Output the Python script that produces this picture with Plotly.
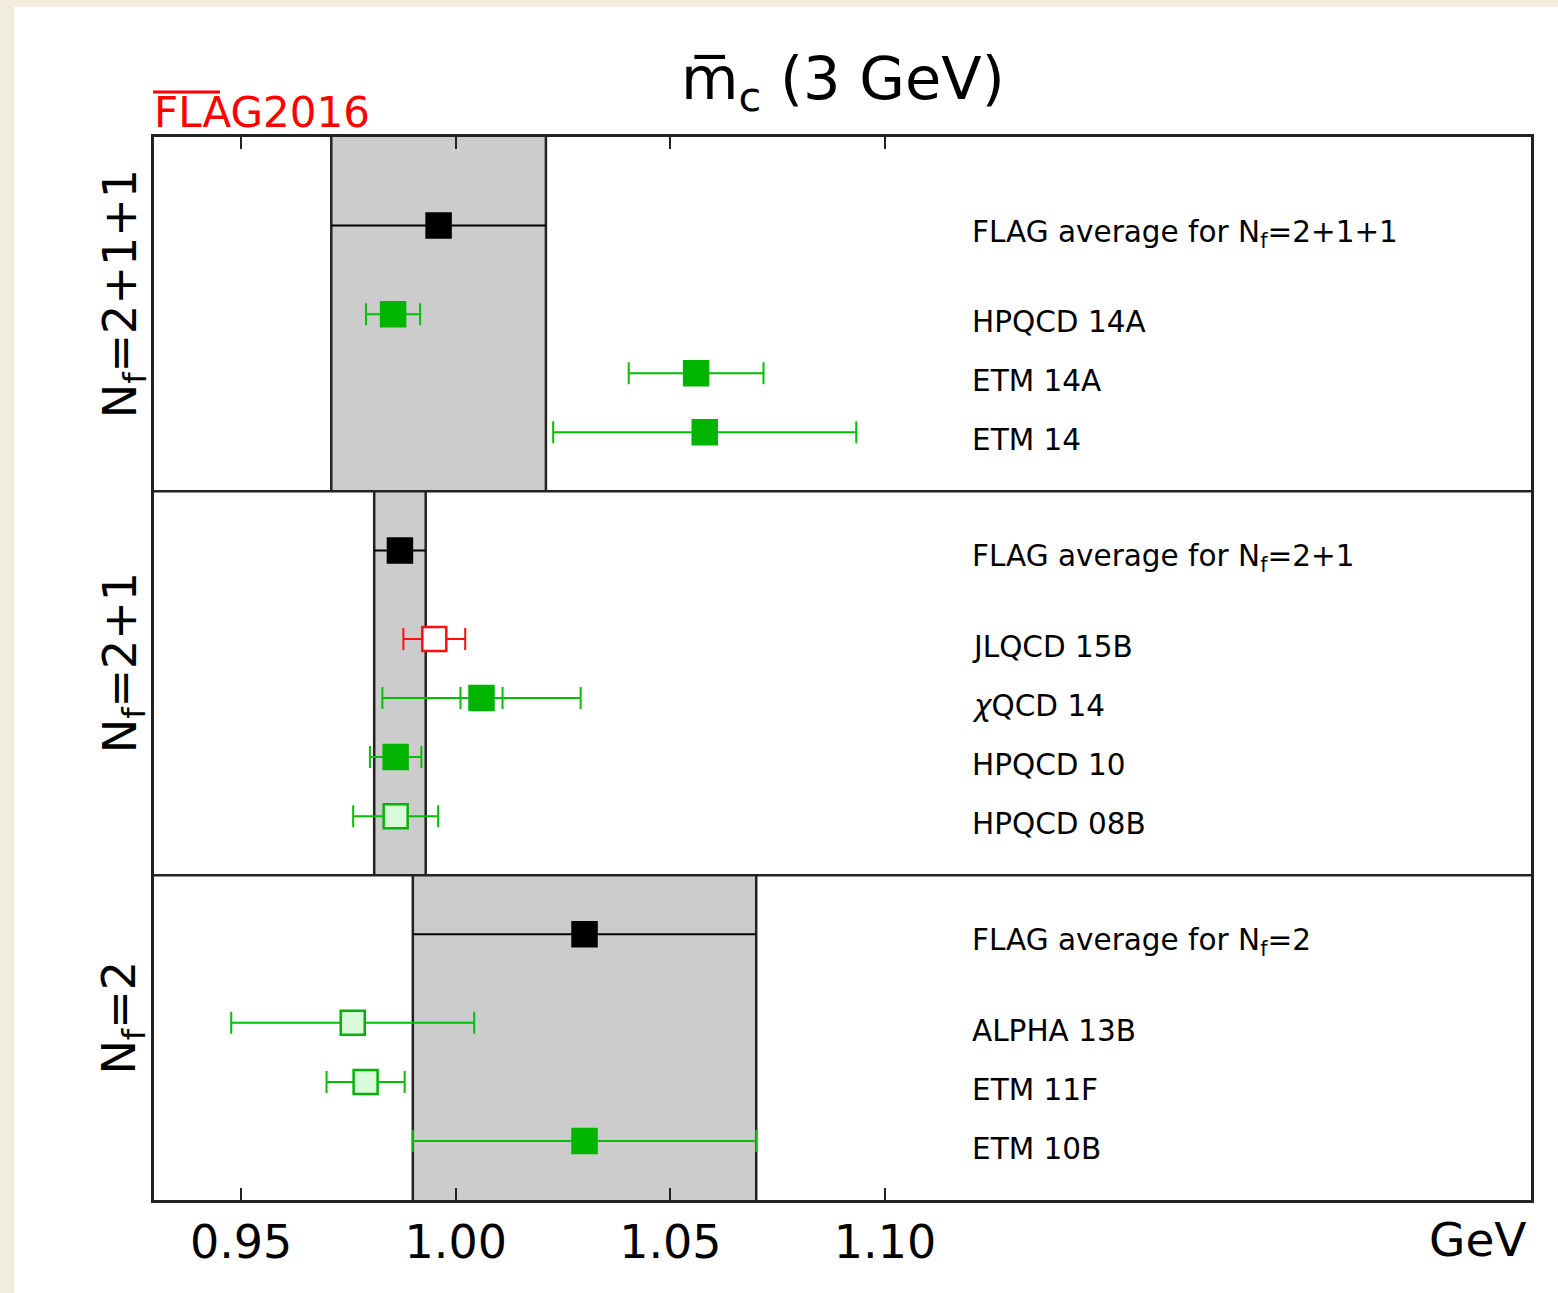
import plotly.graph_objects as go

# ---------------- data ----------------
group_labels = ["N<sub>f</sub>=2", "N<sub>f</sub>=2+1", "N<sub>f</sub>=2+1+1"]
flag_names = ["FLAG average for N<sub>f</sub>=2",
              "FLAG average for N<sub>f</sub>=2+1",
              "FLAG average for N<sub>f</sub>=2+1+1"]
flag_avg = [1.030, 0.987, 0.996]
flag_err = [0.040, 0.006, 0.025]

names_nf2 = ["ETM 10B", "ETM 11F", "ALPHA 13B"]
vals_nf2 = [1.030, 0.979, 0.976]
errs_nf2 = [0.040, 0.0091, 0.0283]
tot_nf2 = [None, None, None]
kind_nf2 = ["filled", "light", "light"]

names_nf21 = ["HPQCD 08B", "HPQCD 10", "<i>χ</i>QCD 14", "JLQCD 15B"]
vals_nf21 = [0.986, 0.986, 1.006, 0.995]
errs_nf21 = [0.0099, 0.0060, 0.0049, 0.0072]
tot_nf21 = [None, None, 0.0231, None]
kind_nf21 = ["light", "filled", "filled", "open"]

names_nf211 = ["ETM 14", "ETM 14A", "HPQCD 14A"]
vals_nf211 = [1.058, 1.056, 0.9854]
errs_nf211 = [0.0353, 0.0157, 0.0063]
tot_nf211 = [None, None, None]
kind_nf211 = ["filled", "filled", "filled"]

x_ticks = [0.95, 1.00, 1.05, 1.10]
x_ticktext = ["0.95", "1.00", "1.05", "1.10"]

groups = [
    (names_nf2, vals_nf2, errs_nf2, tot_nf2, kind_nf2),
    (names_nf21, vals_nf21, errs_nf21, tot_nf21, kind_nf21),
    (names_nf211, vals_nf211, errs_nf211, tot_nf211, kind_nf211),
]

# ---------------- style ----------------
FONT = "DejaVu Sans"
GREEN = "#00b400"
GREEN_BAR = "#00c000"
LIGHT = "#d9fbd9"
RED = "#ff1010"
MSIZE = 24
LABEL_X = 1.1198
XR = [0.9297, 1.2505]
W, H = 1558, 1293
ML, MR, MT, MB = 154, 27, 137, 93
pw, ph = W - ML - MR, H - MT - MB

fig = go.Figure()
shapes = []
annotations = []

offset = 0.0
boundaries = []
panel_ranges = []
for gi, (nm, vl, er, tot, kd) in enumerate(groups):
    n = len(nm)
    ys = [offset + i + 1 for i in range(n)]
    y_flag = offset + n + 1.5
    top = offset + n + 2.5
    lo, hi = flag_avg[gi] - flag_err[gi], flag_avg[gi] + flag_err[gi]
    band_top = top if gi < len(groups) - 1 else y_flag + 1.5
    panel_ranges.append((offset, band_top))
    shapes.append(dict(type="rect", xref="x", yref="y", x0=lo, x1=hi,
                       y0=offset, y1=band_top, fillcolor="#cccccc",
                       line=dict(width=0), layer="below"))
    for xe in (lo, hi):
        shapes.append(dict(type="line", xref="x", yref="y", x0=xe, x1=xe,
                           y0=offset, y1=band_top,
                           line=dict(color="#222222", width=2.5), layer="below"))
    for i in range(n):
        k = kd[i]
        if k == "filled":
            fill, lc, bc = GREEN, GREEN, GREEN_BAR
        elif k == "light":
            fill, lc, bc = LIGHT, GREEN, GREEN_BAR
        else:
            fill, lc, bc = "white", RED, RED
        if tot[i] is not None:
            fig.add_trace(go.Scatter(
                x=[vl[i]], y=[ys[i]], mode="markers",
                marker=dict(size=MSIZE, color="rgba(0,0,0,0)", symbol="square"),
                error_x=dict(type="data", array=[tot[i]], color=bc,
                             thickness=2, width=11),
                showlegend=False, hoverinfo="skip"))
        fig.add_trace(go.Scatter(
            x=[vl[i]], y=[ys[i]], mode="markers",
            marker=dict(size=MSIZE, color=fill, symbol="square",
                        line=dict(color=lc, width=2.5)),
            error_x=dict(type="data", array=[er[i]], color=bc,
                         thickness=2, width=11),
            showlegend=False, name=nm[i]))
        annotations.append(dict(x=LABEL_X, y=ys[i], xref="x", yref="y",
                                text=nm[i], showarrow=False, xanchor="left",
                                yanchor="middle", yshift=-8,
                                font=dict(family=FONT, size=29.5, color="black")))
    fig.add_trace(go.Scatter(
        x=[flag_avg[gi]], y=[y_flag], mode="markers",
        marker=dict(size=MSIZE, color="black", symbol="square",
                    line=dict(color="black", width=2.5)),
        error_x=dict(type="data", array=[flag_err[gi]], color="black",
                     thickness=2, width=0),
        showlegend=False, name=flag_names[gi]))
    annotations.append(dict(x=LABEL_X, y=y_flag, xref="x", yref="y",
                            text=flag_names[gi], showarrow=False, xanchor="left",
                            yanchor="middle", yshift=-8,
                            font=dict(family=FONT, size=29.5, color="black")))
    offset = top
    if gi < len(groups) - 1:
        boundaries.append(top)

for b in boundaries:
    shapes.append(dict(type="line", xref="paper", yref="y", x0=0, x1=1,
                       y0=b, y1=b, line=dict(color="#222222", width=2.5)))

for gi, (y0, y1) in enumerate(panel_ranges):
    annotations.append(dict(x=-0.0225, y=(y0 + y1) / 2, xref="paper", yref="y",
                            text=group_labels[gi], textangle=-90, showarrow=False,
                            xanchor="center", yanchor="middle", yshift=20,
                            font=dict(family=FONT, size=46, color="black")))

annotations.append(dict(x=0.5, y=1, xref="paper", yref="paper",
                        text="m\u0305<sub>c</sub> (3 GeV)", showarrow=False,
                        xanchor="center", yanchor="bottom", yshift=14,
                        font=dict(family=FONT, size=59, color="black")))
annotations.append(dict(x=-0.0015, y=1, xref="paper", yref="paper",
                        text="FLAG2016", showarrow=False,
                        xanchor="left", yanchor="bottom", yshift=-2,
                        font=dict(family=FONT, size=42, color="#ff0000")))
# overline over "FLA" of the logo
shapes.append(dict(type="line", xref="paper", yref="paper",
                   x0=(153 - ML) / pw, x1=(220 - ML) / pw,
                   y0=(H - MB - 92) / ph, y1=(H - MB - 92) / ph,
                   line=dict(color="#ff0000", width=3)))
annotations.append(dict(x=1, y=0, xref="paper", yref="paper",
                        text="GeV", showarrow=False,
                        xanchor="right", yanchor="top", yshift=-10, xshift=-2,
                        font=dict(family=FONT, size=47, color="black")))

BEIGE = "#f1ecdc"
shapes.append(dict(type="rect", xref="paper", yref="paper",
                   x0=-ML / pw, x1=(14 - ML) / pw, y0=-MB / ph, y1=(H - MB) / ph,
                   fillcolor=BEIGE, line=dict(width=0), layer="below"))
shapes.append(dict(type="rect", xref="paper", yref="paper",
                   x0=-ML / pw, x1=(W - ML) / pw, y0=(H - MB - 7) / ph, y1=(H - MB) / ph,
                   fillcolor=BEIGE, line=dict(width=0), layer="below"))

fig.update_layout(
    width=W, height=H,
    margin=dict(l=ML, r=MR, t=MT, b=MB, pad=0),
    paper_bgcolor="white", plot_bgcolor="white",
    shapes=shapes, annotations=annotations,
    showlegend=False,
    font=dict(family=FONT, color="black"),
)
fig.update_xaxes(range=XR, tickvals=x_ticks, ticktext=x_ticktext,
                 ticks="inside", ticklen=12, tickwidth=2, tickcolor="#222222",
                 showline=True, linewidth=2.5, linecolor="#222222", mirror="ticks",
                 showgrid=False, zeroline=False,
                 tickfont=dict(family=FONT, size=46, color="black"))
fig.update_yaxes(range=[0, panel_ranges[-1][1]], showticklabels=False, ticks="",
                 showline=True, linewidth=2.5, linecolor="#222222", mirror=True,
                 showgrid=False, zeroline=False)

fig.write_html("out.html")
